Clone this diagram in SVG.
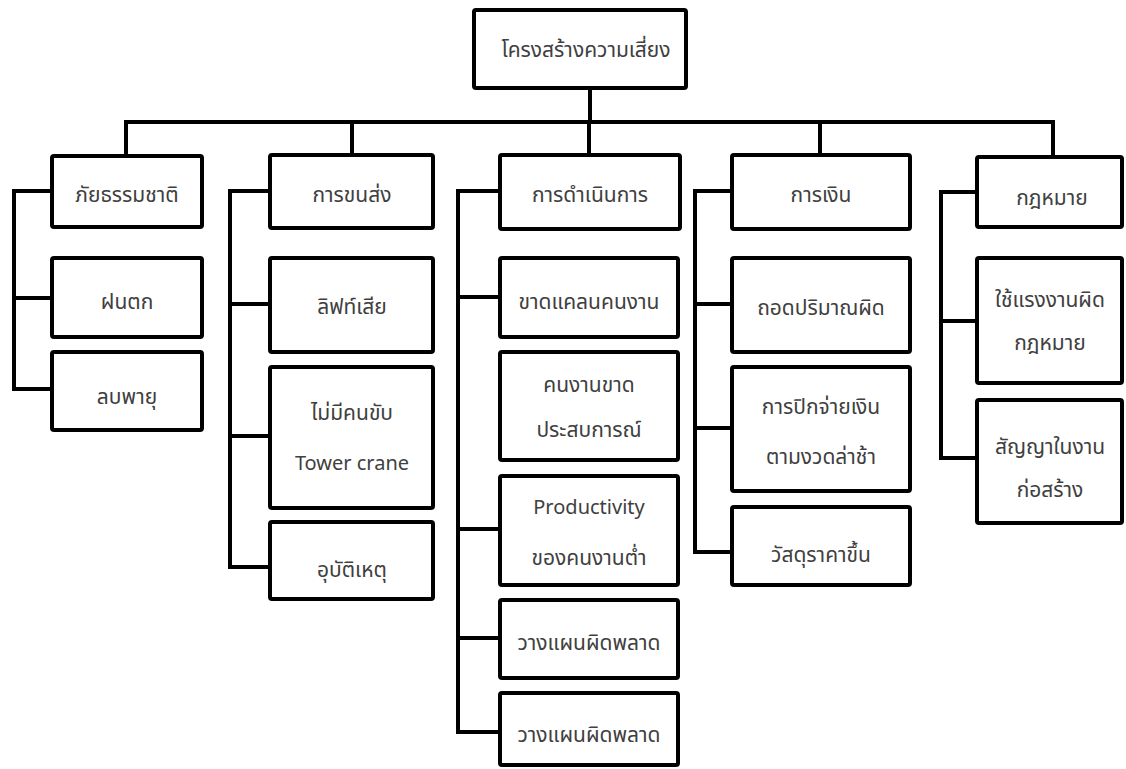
<svg xmlns="http://www.w3.org/2000/svg" width="1126" height="769" viewBox="0 0 1126 769">
  <style>
    .box { fill: #ffffff; stroke: #000000; stroke-width: 4; }
    .wire { fill: none; stroke: #000000; stroke-width: 4; stroke-linejoin: miter; stroke-linecap: square; }
    text { font-family: "Noto Sans", "Noto Sans Thai", "Liberation Sans", sans-serif; font-size: 21px; fill: #404040; text-anchor: middle; }
    text.en { font-size: 20px; }
  </style>
  <rect width="1126" height="769" fill="#ffffff"/>

  <!-- tree connectors -->
  <g id="connectors">
    <path class="wire" d="M590 88 V122 M126 122 H1053 M126 122 V155 M352 122 V155 M589 122 V155 M820 122 V155 M1053 122 V157"/>
    <!-- column 1 bus -->
    <path class="wire" d="M52 191 H14 V389 H52 M14 298 H52"/>
    <!-- column 2 bus -->
    <path class="wire" d="M270 191 H230 V567 H270 M230 304 H270 M230 436 H270"/>
    <!-- column 3 bus -->
    <path class="wire" d="M500 191 H458 V732 H500 M458 297 H500 M458 529 H500 M458 638 H500"/>
    <!-- column 4 bus -->
    <path class="wire" d="M732 191 H695 V552 H732 M695 304 H732 M695 428 H732"/>
    <!-- column 5 bus -->
    <path class="wire" d="M977 192 H941 V458 H977 M941 321 H977"/>
  </g>

  <g id="root">
    <rect class="box" x="474" y="10" width="212" height="78" rx="2"/>
    <text x="586" y="57">โครงสร้างความเสี่ยง</text>
  </g>

  <!-- column 1 -->
  <g id="natural">
    <rect class="box" x="52" y="156" width="150" height="71" rx="2"/>
    <text x="127" y="202">ภัยธรรมชาติ</text>
  </g>
  <g id="rain">
    <rect class="box" x="52" y="258" width="150" height="79" rx="2"/>
    <text x="127" y="309">ฝนตก</text>
  </g>
  <g id="storm">
    <rect class="box" x="52" y="352" width="150" height="78" rx="2"/>
    <text x="127" y="404">ลบพายุ</text>
  </g>

  <!-- column 2 -->
  <g id="transport">
    <rect class="box" x="270" y="155" width="163" height="73" rx="2"/>
    <text x="352" y="202">การขนส่ง</text>
  </g>
  <g id="lift">
    <rect class="box" x="270" y="258" width="163" height="94" rx="2"/>
    <text x="352" y="314">ลิฟท์เสีย</text>
  </g>
  <g id="crane">
    <rect class="box" x="270" y="367" width="163" height="141" rx="2"/>
    <text x="352" y="420">ไม่มีคนขับ</text>
    <text class="en" x="352" y="470">Tower crane</text>
  </g>
  <g id="accident">
    <rect class="box" x="270" y="522" width="163" height="77" rx="2"/>
    <text x="352" y="577">อุบัติเหตุ</text>
  </g>

  <!-- column 3 -->
  <g id="operation">
    <rect class="box" x="500" y="155" width="180" height="74" rx="2"/>
    <text x="590" y="202">การดำเนินการ</text>
  </g>
  <g id="labor-shortage">
    <rect class="box" x="500" y="258" width="178" height="79" rx="2"/>
    <text x="589" y="309">ขาดแคลนคนงาน</text>
  </g>
  <g id="inexperience">
    <rect class="box" x="500" y="352" width="178" height="108" rx="2"/>
    <text x="589" y="392">คนงานขาด</text>
    <text x="589" y="437">ประสบการณ์</text>
  </g>
  <g id="productivity">
    <rect class="box" x="500" y="476" width="178" height="109" rx="2"/>
    <text class="en" x="589" y="514">Productivity</text>
    <text x="589" y="565">ของคนงานต่ำ</text>
  </g>
  <g id="planning-1">
    <rect class="box" x="500" y="600" width="178" height="78" rx="2"/>
    <text x="589" y="650">วางแผนผิดพลาด</text>
  </g>
  <g id="planning-2">
    <rect class="box" x="500" y="693" width="178" height="72" rx="2"/>
    <text x="589" y="742">วางแผนผิดพลาด</text>
  </g>

  <!-- column 4 -->
  <g id="finance">
    <rect class="box" x="732" y="155" width="178" height="74" rx="2"/>
    <text x="821" y="202">การเงิน</text>
  </g>
  <g id="quantity">
    <rect class="box" x="732" y="258" width="178" height="94" rx="2"/>
    <text x="821" y="315">ถอดปริมาณผิด</text>
  </g>
  <g id="payment">
    <rect class="box" x="732" y="367" width="178" height="124" rx="2"/>
    <text x="821" y="414">การปิกจ่ายเงิน</text>
    <text x="821" y="464">ตามงวดล่าช้า</text>
  </g>
  <g id="materials">
    <rect class="box" x="732" y="507" width="178" height="78" rx="2"/>
    <text x="821" y="562">วัสดุราคาขึ้น</text>
  </g>

  <!-- column 5 -->
  <g id="law">
    <rect class="box" x="977" y="157" width="145" height="70" rx="2"/>
    <text x="1052" y="205">กฎหมาย</text>
  </g>
  <g id="illegal-labor">
    <rect class="box" x="977" y="258" width="145" height="125" rx="2"/>
    <text x="1050" y="307">ใช้แรงงานผิด</text>
    <text x="1050" y="350">กฎหมาย</text>
  </g>
  <g id="contract">
    <rect class="box" x="977" y="400" width="145" height="123" rx="2"/>
    <text x="1050" y="454">สัญญาในงาน</text>
    <text x="1050" y="497">ก่อสร้าง</text>
  </g>
</svg>
